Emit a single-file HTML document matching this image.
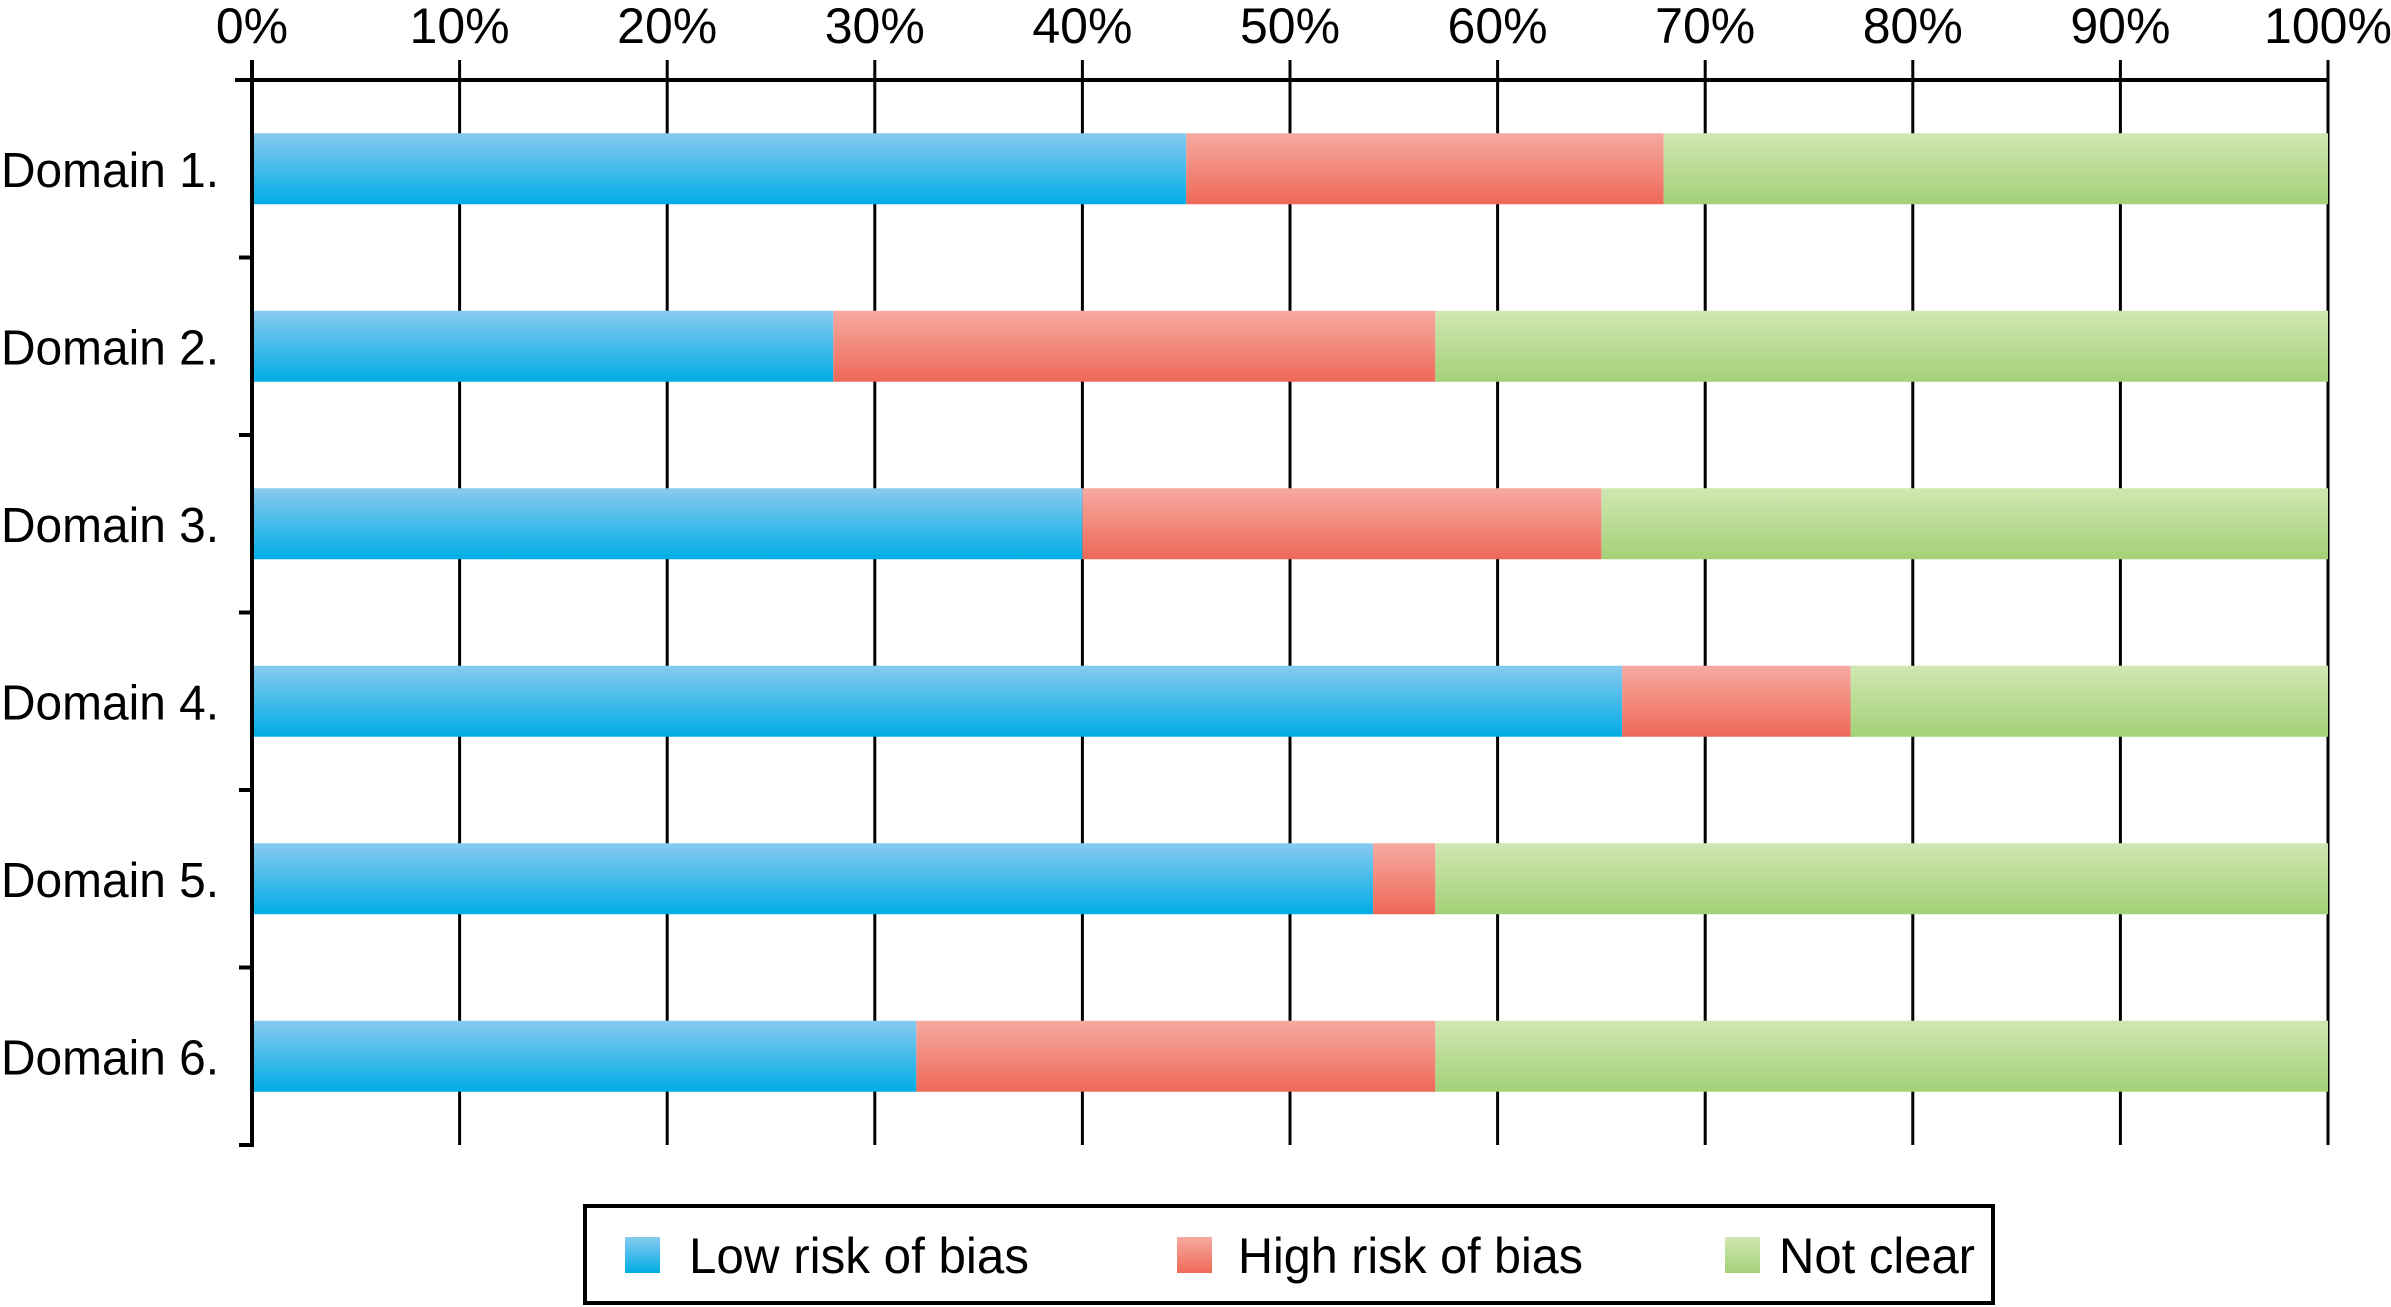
<!DOCTYPE html>
<html><head><meta charset="utf-8"><style>
html,body{margin:0;padding:0;background:#fff;}
svg{display:block;font-family:"Liberation Sans",Arial,sans-serif;}
</style></head><body>
<svg id="chart" width="2391" height="1307" viewBox="0 0 2391 1307" xmlns="http://www.w3.org/2000/svg">
<defs>
<linearGradient id="gBlue" x1="0" y1="0" x2="0" y2="1"><stop offset="0" stop-color="#88caef"/><stop offset="1" stop-color="#00ade6"/></linearGradient>
<linearGradient id="gRed" x1="0" y1="0" x2="0" y2="1"><stop offset="0" stop-color="#f6aaa1"/><stop offset="1" stop-color="#ef6858"/></linearGradient>
<linearGradient id="gGreen" x1="0" y1="0" x2="0" y2="1"><stop offset="0" stop-color="#d0e7b2"/><stop offset="1" stop-color="#a4d178"/></linearGradient>
</defs>
<g id="grid"></g>
<g id="bars"></g>
<g id="axes"></g>
<g id="legend">
<rect x="585" y="1206" width="1408" height="97" fill="#fff" stroke="#000" stroke-width="4"/>
<rect x="625" y="1237" width="35" height="36" fill="url(#gBlue)"/>
<text x="689" y="1273" font-size="50" textLength="340" lengthAdjust="spacingAndGlyphs">Low risk of bias</text>
<rect x="1177" y="1237" width="35" height="36" fill="url(#gRed)"/>
<text x="1238" y="1273" font-size="50" textLength="345" lengthAdjust="spacingAndGlyphs">High risk of bias</text>
<rect x="1725" y="1237" width="35" height="36" fill="url(#gGreen)"/>
<text x="1779" y="1273" font-size="50" textLength="196" lengthAdjust="spacingAndGlyphs">Not clear</text>
</g>
</svg>
<script>
const categories = ["Domain 1.","Domain 2.","Domain 3.","Domain 4.","Domain 5.","Domain 6."];
const lowRisk = [45, 28, 40, 66, 54, 32];
const highRisk = [23, 29, 25, 11, 3, 25];
const notClear = [32, 43, 35, 23, 43, 43];
const tickValues = [0,10,20,30,40,50,60,70,80,90,100];
const tickLabels = ["0%","10%","20%","30%","40%","50%","60%","70%","80%","90%","100%"];

const NS = "http://www.w3.org/2000/svg";
const X0 = 252, X1 = 2328, Y0 = 80, Y1 = 1145;
const band = (Y1 - Y0) / categories.length;
const barH = 71;
function xs(v){ return X0 + (X1 - X0) * v / 100; }
function yBand(i){ return Y0 + band * i; }
function mk(tag, attrs, parent){ const e = document.createElementNS(NS, tag); for (const k in attrs) e.setAttribute(k, attrs[k]); parent.appendChild(e); return e; }

const gridG = document.getElementById('grid');
const barsG = document.getElementById('bars');
const axesG = document.getElementById('axes');

tickValues.forEach((v, i) => {
  const l = mk('line', {x1: xs(v), x2: xs(v), y1: 60, y2: Y1, stroke: '#000', 'stroke-width': 3}, gridG);
  
  
  const t = mk('text', {x: xs(v), y: 43, 'font-size': 50, 'text-anchor': 'middle'}, axesG);
  t.textContent = tickLabels[i];
  
  
});

const series = [[lowRisk, 'url(#gBlue)', 'bar-low'], [highRisk, 'url(#gRed)', 'bar-high'], [notClear, 'url(#gGreen)', 'bar-unclear']];
categories.forEach((c, i) => {
  const yc = yBand(i) + band / 2;
  let acc = 0;
  series.forEach(s => {
    const v = s[0][i];
    const r = mk('rect', {x: xs(acc), y: yc - barH / 2, width: xs(acc + v) - xs(acc), height: barH, fill: s[1]}, barsG);
    
    
    acc += v;
  });
  const t = mk('text', {x: 219, y: yc + 18, 'font-size': 49, 'text-anchor': 'end', textLength: 218, lengthAdjust: 'spacingAndGlyphs'}, axesG);
  t.textContent = c;
  
  
});

for (let i = 0; i <= categories.length; i++) {
  const tk = mk('line', {x1: 239, x2: X0, y1: yBand(i), y2: yBand(i), stroke: '#000', 'stroke-width': 4}, axesG);
  
  
}
const topAxis = mk('line', {x1: 235, x2: X1, y1: Y0, y2: Y0, stroke: '#000', 'stroke-width': 4}, axesG);


const leftAxis = mk('line', {x1: X0, x2: X0, y1: 60, y2: Y1 + 2, stroke: '#000', 'stroke-width': 4}, axesG);


</script>
</body></html>
